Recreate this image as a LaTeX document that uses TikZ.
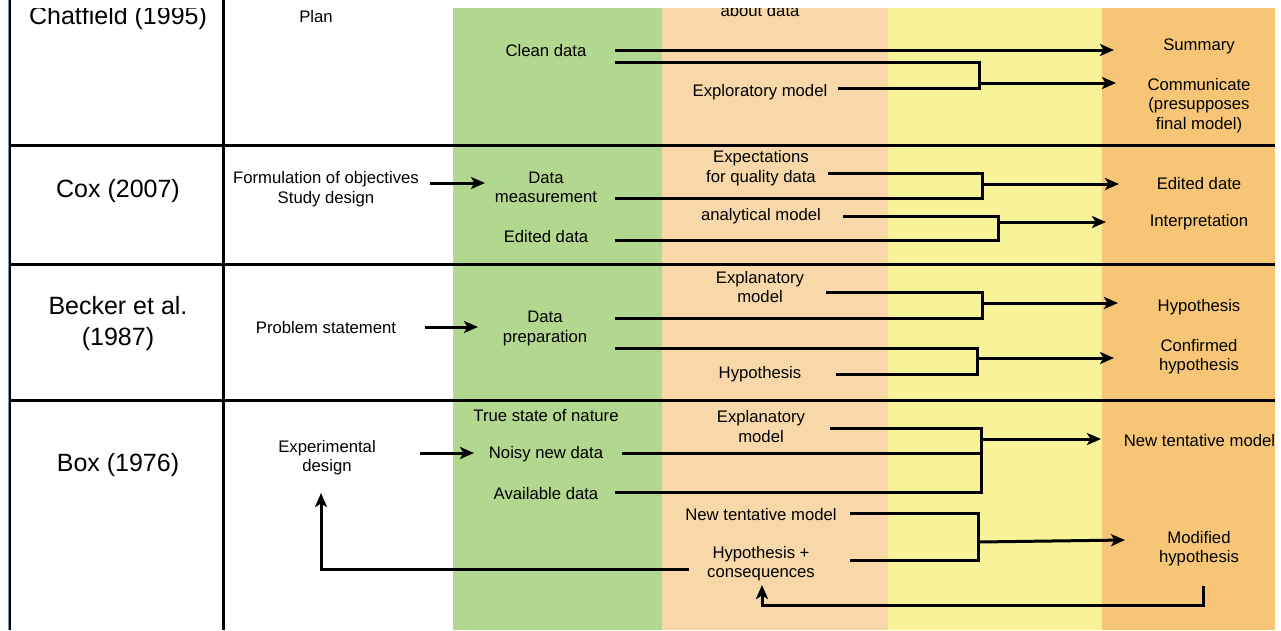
\documentclass[tikz,border=0pt]{standalone}
\usepackage{fontspec}
\setmainfont{Liberation Sans}
\usetikzlibrary{arrows.meta}
\definecolor{cgreen}{RGB}{178,215,142}
\definecolor{cpeach}{RGB}{248,216,168}
\definecolor{cyellow}{RGB}{248,243,152}
\definecolor{corange}{RGB}{246,198,118}
\definecolor{cblue}{RGB}{120,140,200}
\begin{document}
\begin{tikzpicture}[x=1pt,y=-1pt,
  lab/.style={font=\fontsize{16.7}{19.5}\selectfont, align=center, inner sep=0pt, yshift=-1.5pt},
  big/.style={font=\fontsize{25}{31}\selectfont, align=center, inner sep=0pt, yshift=-2pt},
  gridline/.style={line width=3pt, black},
  conn/.style={line width=3pt, line join=miter},
  arr/.style={conn, -{Stealth[length=14pt,width=12pt,inset=3.5pt]}},
]
\useasboundingbox (0,0) rectangle (1281,630);
\fill[white] (0,0) rectangle (1281,630);
% column backgrounds
\fill[cgreen]  (453,8) rectangle (662,630);
\fill[cpeach]  (662,8) rectangle (888,630);
\fill[cyellow] (888,8) rectangle (1102,630);
\fill[corange] (1102,8) rectangle (1275,630);

% row labels
\node[big] (chat) at (118,16.5) {Chatfield (1995)};
\node[big] (cox) at (118,189) {Cox (2007)};
\node[big] (beck) at (118,321.5) {Becker et al.\\(1987)};
\node[big] (box) at (118,463) {Box (1976)};

% column 2
\node[lab] (plan) at (316,15) {Plan};
\node[lab] (form) at (326,187.5) {Formulation of objectives\\Study design};
\node[lab] (prob) at (326,326) {Problem statement};
\node[lab] (expd) at (327,456) {Experimental\\design};

% column 3
\node[lab] (clean) at (546,49) {Clean data};
\node[lab] (dmeas) at (546,186) {Data\\measurement};
\node[lab] (edit) at (546,235) {Edited data};
\node[lab] (dprep) at (545,327) {Data\\preparation};
\node[lab] (true) at (546,414) {True state of nature};
\node[lab] (noisy) at (546,453) {Noisy new data};
\node[lab] (avail) at (546,492) {Available data};

% column 4
\node[lab] (about) at (760,9.5) {about data};
\node[lab] (explo) at (760,91) {Exploratory model};
\node[lab] (expect) at (761,166.5) {Expectations\\for quality data};
\node[lab] (anal) at (761,215) {analytical model};
\node[lab] (expl1) at (760,285.5) {Explanatory\\model};
\node[lab] (hyp1) at (760,373) {Hypothesis};
\node[lab] (expl2) at (761,425) {Explanatory\\model};
\node[lab] (ntm1) at (761,513) {New tentative model};
\node[lab] (hypc) at (761,562) {Hypothesis +\\consequences};

% column 6
\node[lab] (summ) at (1199,45) {Summary};
\node[lab] (comm) at (1199,104) {Communicate\\(presupposes\\final model)};
\node[lab] (edate) at (1199,182) {Edited date};
\node[lab] (interp) at (1199,221) {Interpretation};
\node[lab] (hyp2) at (1199,306) {Hypothesis};
\node[lab] (conf) at (1199,355) {Confirmed\\hypothesis};
\node[lab] (ntm2) at (1199.5,439) {New tentative model};
\node[lab] (modh) at (1199,547) {Modified\\hypothesis};

% top white strip
\fill[white] (0,0) rectangle (1281,7.5);

% grid lines
\draw[line width=1pt, cblue] (8.3,0) -- (8.3,630);
\draw[gridline, line width=2.2pt] (10,0) -- (10,630);
\draw[gridline] (223,0) -- (223,630);
\draw[gridline] (10,145) -- (1275,145);
\draw[gridline] (10,264) -- (1275,264);
\draw[gridline] (10,400) -- (1275,400);

% coordinates for connectors
% row 1
\path (615,50) coordinate (a1s) (1114,50) coordinate (a1e)
      (615,62) coordinate (b1a) (979,62) coordinate (b1b) (979,88) coordinate (b1c) (838,88) coordinate (b1d)
      (979,83) coordinate (b1j) (1116,83) coordinate (b1e);
\draw[arr] (a1s) -- (a1e);
\draw[conn] (b1a) -- (b1b) -- (b1c) -- (b1d);
\draw[arr] (b1j) -- (b1e);
% row 2
\path (430,183) coordinate (f2s) (485,183) coordinate (f2e)
      (828,173) coordinate (b2a) (982,173) coordinate (b2b) (982,198) coordinate (b2c) (615,198) coordinate (b2d)
      (982,184) coordinate (b2j) (1119,184) coordinate (b2e)
      (843,216) coordinate (c2a) (998,216) coordinate (c2b) (998,240) coordinate (c2c) (615,240) coordinate (c2d)
      (998,222) coordinate (c2j) (1106,222) coordinate (c2e);
\draw[arr] (f2s) -- (f2e);
\draw[conn] (b2a) -- (b2b) -- (b2c) -- (b2d);
\draw[arr] (b2j) -- (b2e);
\draw[conn] (c2a) -- (c2b) -- (c2c) -- (c2d);
\draw[arr] (c2j) -- (c2e);
% row 3
\path (425,327) coordinate (f3s) (478,327) coordinate (f3e)
      (826,292) coordinate (b3a) (982,292) coordinate (b3b) (982,318) coordinate (b3c) (615,318) coordinate (b3d)
      (982,303) coordinate (b3j) (1118,303) coordinate (b3e)
      (615,348) coordinate (c3a) (977,348) coordinate (c3b) (977,374) coordinate (c3c) (836,374) coordinate (c3d)
      (977,358) coordinate (c3j) (1114,358) coordinate (c3e);
\draw[arr] (f3s) -- (f3e);
\draw[conn] (b3a) -- (b3b) -- (b3c) -- (b3d);
\draw[arr] (b3j) -- (b3e);
\draw[conn] (c3a) -- (c3b) -- (c3c) -- (c3d);
\draw[arr] (c3j) -- (c3e);
% row 4
\path (420,453) coordinate (f4s) (474,453) coordinate (f4e)
      (830,428) coordinate (b4a) (981,428) coordinate (b4b) (981,492) coordinate (b4c) (615,492) coordinate (b4d)
      (622,453) coordinate (b4m) (981,453) coordinate (b4n)
      (981,439) coordinate (b4j) (1101,439) coordinate (b4e)
      (850,513) coordinate (c4a) (978,513) coordinate (c4b) (978,560) coordinate (c4c) (850,560) coordinate (c4d)
      (978,542) coordinate (c4j) (1125,540) coordinate (c4e)
      (689,569) coordinate (d4a) (321,569) coordinate (d4b) (321,493) coordinate (d4c)
      (1203,586) coordinate (e4a) (1203,605) coordinate (e4b) (762,605) coordinate (e4c) (762,585) coordinate (e4d);
\draw[arr] (f4s) -- (f4e);
\draw[conn] (b4a) -- (b4b) -- (b4c) -- (b4d);
\draw[conn] (b4m) -- (b4n);
\draw[arr] (b4j) -- (b4e);
\draw[conn] (c4a) -- (c4b) -- (c4c) -- (c4d);
\draw[arr] (c4j) -- (c4e);
\draw[arr] (d4a) -- (d4b) -- (d4c);
\draw[arr] (e4a) -- (e4b) -- (e4c) -- (e4d);
\end{tikzpicture}
\end{document}
